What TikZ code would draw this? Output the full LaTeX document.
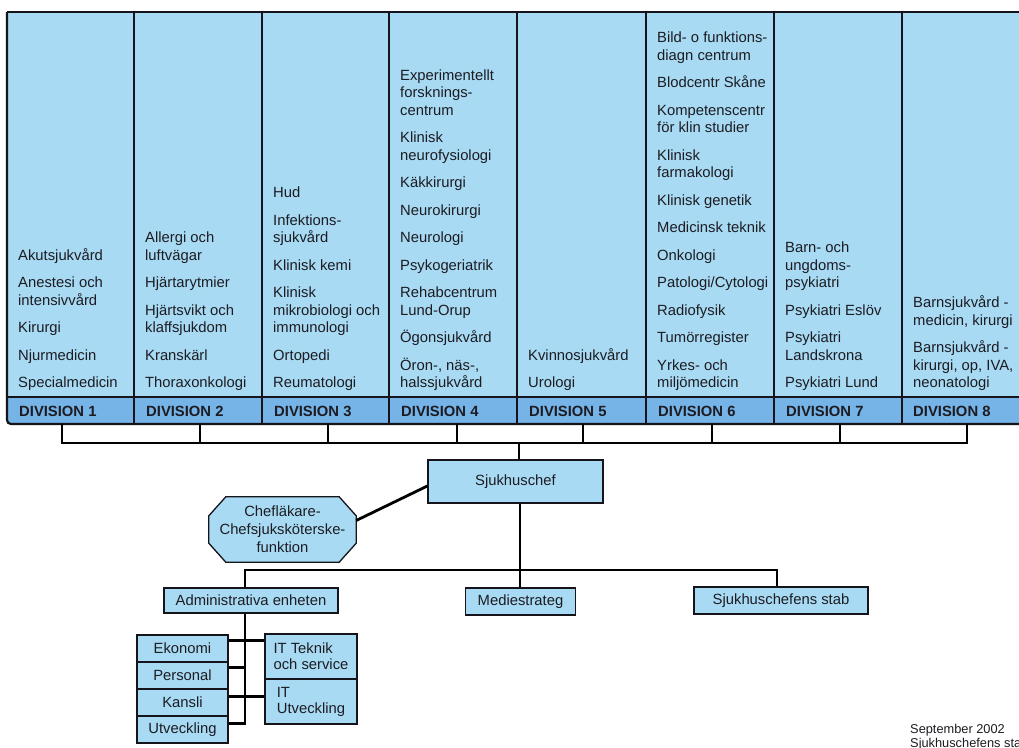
\documentclass[tikz,border=0pt]{standalone}
\usepackage{fontspec}
\setmainfont{Liberation Sans}
\usetikzlibrary{backgrounds}
\definecolor{lightb}{RGB}{168,218,243}
\definecolor{bandb}{RGB}{118,180,232}
\definecolor{ink}{RGB}{28,28,34}
\definecolor{linec}{RGB}{20,20,26}
\newcommand\colfont{\fontsize{14.8}{17.5}\selectfont}
\begin{document}
\begin{tikzpicture}[x=1pt,y=-1pt,
  every node/.style={font=\colfont, text=ink},
  coltext/.style={anchor=south west, align=left, inner sep=0pt},
  divlabel/.style={anchor=base west, inner sep=0pt, font=\colfont\bfseries},
  box/.style={draw=linec, line width=1.3pt, fill=lightb, inner sep=0pt, align=center},
  conn/.style={draw=black, line width=2.8pt},
  gridline/.style={draw=linec, line width=1.3pt},
  ruleline/.style={draw=linec, line width=2.2pt}]
\useasboundingbox (0,0) rectangle (1019,747);
\begin{pgfonlayer}{background}
\fill[white] (0,0) rectangle (1019,747);
\end{pgfonlayer}

% table of divisions
\fill[lightb] (7,12) rectangle (1019,397);
\fill[bandb] (7,397) rectangle (1019,424);
\foreach \x in {134,262,389,517,646,774,902} \draw[gridline] (\x,12) -- (\x,424);
\draw[ruleline] (7,12) -- (1019,12);
\draw[ruleline] (7,397) -- (1019,397);
\draw[ruleline, rounded corners=4pt] (7,12) -- (7,424) -- (1019,424);

\node[coltext] (c1) at (18,393) {Akutsjukvård\\[10pt]Anestesi och\\intensivvård\\[10pt]Kirurgi\\[10pt]Njurmedicin\\[10pt]Specialmedicin\strut};
\node[coltext] (c2) at (145,393) {Allergi och\\luftvägar\\[10pt]Hjärtarytmier\\[10pt]Hjärtsvikt och\\klaffsjukdom\\[10pt]Kranskärl\\[10pt]Thoraxonkologi\strut};
\node[coltext] (c3) at (273,393) {Hud\\[10pt]Infektions-\\sjukvård\\[10pt]Klinisk kemi\\[10pt]Klinisk\\mikrobiologi och\\immunologi\\[10pt]Ortopedi\\[10pt]Reumatologi\strut};
\node[coltext] (c4) at (400,393) {Experimentellt\\forsknings-\\centrum\\[10pt]Klinisk\\neurofysiologi\\[10pt]Käkkirurgi\\[10pt]Neurokirurgi\\[10pt]Neurologi\\[10pt]Psykogeriatrik\\[10pt]Rehabcentrum\\Lund-Orup\\[10pt]Ögonsjukvård\\[10pt]Öron-, näs-,\\halssjukvård\strut};
\node[coltext] (c5) at (528,393) {Kvinnosjukvård\\[10pt]Urologi\strut};
\node[coltext] (c6) at (657,393) {Bild- o funktions-\\diagn centrum\\[10pt]Blodcentr Skåne\\[10pt]Kompetenscentr\\för klin studier\\[10pt]Klinisk\\farmakologi\\[10pt]Klinisk genetik\\[10pt]Medicinsk teknik\\[10pt]Onkologi\\[10pt]Patologi/Cytologi\\[10pt]Radiofysik\\[10pt]Tumörregister\\[10pt]Yrkes- och\\miljömedicin\strut};
\node[coltext] (c7) at (785,393) {Barn- och\\ungdoms-\\psykiatri\\[10pt]Psykiatri Eslöv\\[10pt]Psykiatri\\Landskrona\\[10pt]Psykiatri Lund\strut};
\node[coltext] (c8) at (913,393) {Barnsjukvård -\\medicin, kirurgi\\[10pt]Barnsjukvård -\\kirurgi, op, IVA,\\neonatologi\strut};

\node[divlabel] (d1) at (19,416) {DIVISION 1};
\node[divlabel] (d2) at (146,416) {DIVISION 2};
\node[divlabel] (d3) at (274,416) {DIVISION 3};
\node[divlabel] (d4) at (401,416) {DIVISION 4};
\node[divlabel] (d5) at (529,416) {DIVISION 5};
\node[divlabel] (d6) at (658,416) {DIVISION 6};
\node[divlabel] (d7) at (786,416) {DIVISION 7};
\node[divlabel] (d8) at (913,416) {DIVISION 8};

\coordinate (t1) at (62,424);
\coordinate (t2) at (200,424);
\coordinate (t3) at (328,424);
\coordinate (t4) at (457,424);
\coordinate (t5) at (583,424);
\coordinate (t6) at (712,424);
\coordinate (t7) at (840,424);
\coordinate (t8) at (967,424);
\coordinate (bar) at (519,443);

% management
\node[box, minimum width=175, minimum height=43] (sjc) at (515.5,481.5) {Sjukhuschef};
\node[inner sep=0pt, align=center, minimum width=147, minimum height=65,
      font=\fontsize{14.8}{18}\selectfont] (chef) at (282.5,529.5) {Chefläkare-\\Chefsjuksköterske-\\funktion};
\begin{pgfonlayer}{background}
\path[draw=linec, line width=1.3pt, fill=lightb]
  ([xshift=17pt]chef.north west) -- ([xshift=-17pt]chef.north east)
  -- ([yshift=-19pt]chef.north east) -- ([yshift=19pt]chef.south east)
  -- ([xshift=-17pt]chef.south east) -- ([xshift=17pt]chef.south west)
  -- ([yshift=19pt]chef.south west) -- ([yshift=-19pt]chef.north west) -- cycle;
\end{pgfonlayer}

\node[box, minimum width=174, minimum height=25] (adm) at (251,600.5) {Administrativa enheten};
\node[box, minimum width=110, minimum height=27] (med) at (520.5,601.5) {Mediestrateg};
\node[box, minimum width=174, minimum height=27] (stab) at (781,600.5) {Sjukhuschefens stab};

\node[box, minimum width=91, minimum height=27] (eko) at (182.5,648.5) {Ekonomi};
\node[box, minimum width=91, minimum height=27] (per) at (182.5,675.5) {Personal};
\node[box, minimum width=91, minimum height=27] (kan) at (182.5,702.5) {Kansli};
\node[box, minimum width=91, minimum height=27] (utv) at (182.5,729.5) {Utveckling};
\node[box, minimum width=92, minimum height=45, align=left, font=\fontsize{14.8}{16}\selectfont] (itt) at (311,656.5) {IT Teknik\\och service};
\node[box, minimum width=92, minimum height=45, align=left, font=\fontsize{14.8}{16}\selectfont] (itu) at (311,701.5) {IT\\Utveckling};

\node[anchor=north west, align=left, inner sep=0pt, font=\fontsize{12.8}{13.5}\selectfont] (foot) at (910,724) {September 2002\strut\\Sjukhuschefens stab};

% connectors
\draw[conn] (t1) |- (bar) -| (t8);
\foreach \t in {t2,t3,t4,t5,t6,t7} \draw[conn] (\t) -- (\t |- bar);
\draw[conn] (bar) -- (bar |- sjc.north);
\draw[conn] ([yshift=9pt]chef.east) -- ([yshift=-4.5pt]sjc.west);
\coordinate (hub) at (520,570);
\draw[conn] (sjc.south -| hub) -- (med.north -| hub);
\draw[conn] ([xshift=-6pt]adm.north) |- (hub) -| ([xshift=-4pt]stab.north);
\coordinate (trunk) at ([xshift=-6pt]adm.south);
\coordinate (b1) at ([yshift=-6pt]eko.north east);
\coordinate (b2) at ([yshift=-6pt]per.north east);
\coordinate (b3) at ([yshift=-8pt]kan.north east);
\coordinate (b4) at ([yshift=-8pt]utv.north east);
\draw[conn] (trunk) |- (b4);
\draw[conn] (b1) -- (b1 -| itt.west);
\draw[conn] (b2) -- (b2 -| trunk);
\draw[conn] (b3) -- (b3 -| itu.west);
\end{tikzpicture}
\end{document}
